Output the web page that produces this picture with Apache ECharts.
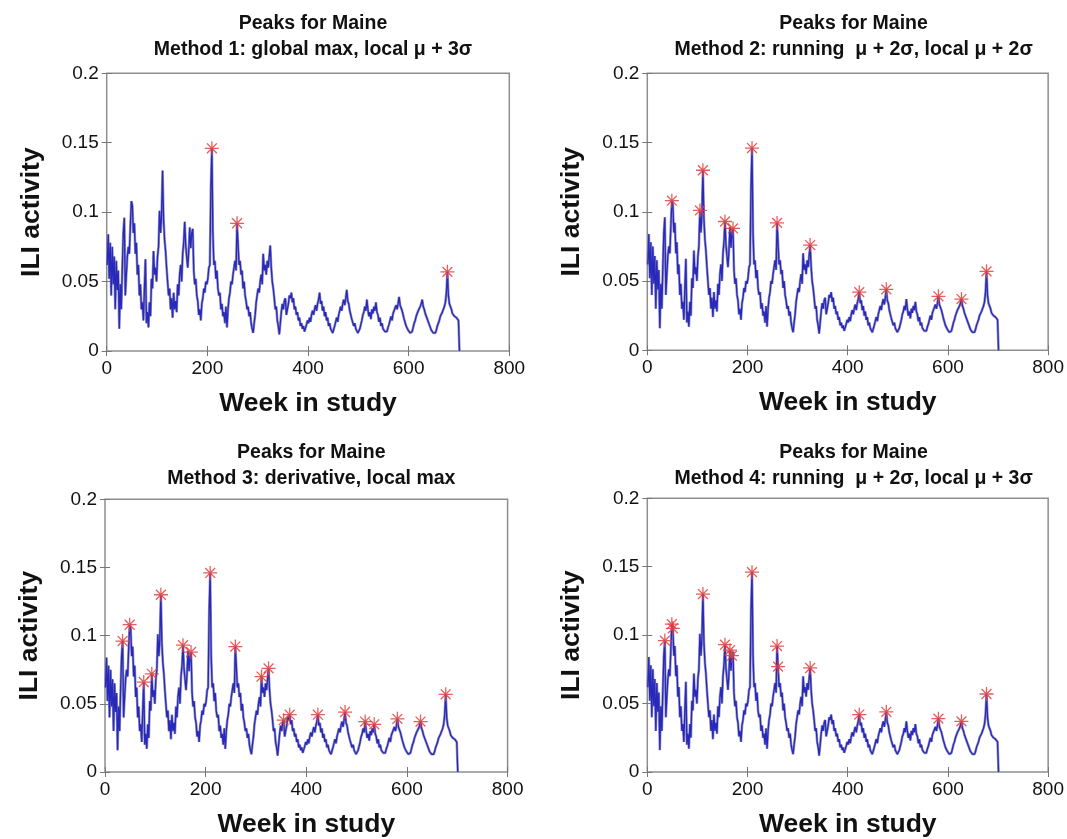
<!DOCTYPE html>
<html><head><meta charset="utf-8">
<script src="https://cdn.jsdelivr.net/npm/echarts@6/dist/echarts.min.js"></script>
<style>html,body{margin:0;padding:0;background:#fff}#c{width:1067px;height:839px}</style>
</head><body><div id="c"></div>
<script>
// Weekly ILI activity for Maine, sampled every 2 weeks starting at week 1
const weekStart = 1;
const weekStep = 2;
const iliActivity = [
  0.062,0.084,0.052,0.078,0.040,0.075,0.048,0.068,0.030,0.065,0.044,0.058,0.016,0.048,0.030,0.060,0.085,0.096,0.040,0.055,0.068,0.075,0.070,0.090,0.108,
  0.105,0.085,0.092,0.070,0.078,0.055,0.062,0.040,0.048,0.030,0.035,0.022,0.045,0.066,0.020,0.028,0.017,0.035,0.025,0.052,0.045,0.072,0.055,0.060,0.050,
  0.068,0.075,0.101,0.085,0.098,0.130,0.095,0.080,0.072,0.060,0.050,0.040,0.045,0.030,0.038,0.024,0.042,0.030,0.036,0.028,0.048,0.040,0.055,0.062,0.050,
  0.070,0.078,0.093,0.076,0.068,0.060,0.072,0.089,0.074,0.085,0.088,0.058,0.048,0.052,0.040,0.036,0.026,0.030,0.022,0.034,0.038,0.045,0.042,0.050,0.048,
  0.052,0.060,0.062,0.118,0.146,0.085,0.062,0.065,0.052,0.058,0.045,0.040,0.042,0.030,0.034,0.025,0.028,0.020,0.032,0.017,0.030,0.038,0.042,0.050,0.048,
  0.055,0.060,0.065,0.058,0.092,0.077,0.062,0.065,0.055,0.058,0.045,0.050,0.040,0.036,0.030,0.032,0.025,0.028,0.020,0.016,0.013,0.020,0.026,0.035,0.040,
  0.045,0.042,0.050,0.055,0.048,0.070,0.058,0.062,0.055,0.065,0.060,0.068,0.076,0.060,0.050,0.045,0.038,0.030,0.032,0.022,0.018,0.012,0.020,0.028,0.034,
  0.030,0.036,0.038,0.026,0.030,0.034,0.040,0.038,0.042,0.035,0.038,0.030,0.032,0.026,0.028,0.022,0.024,0.018,0.020,0.016,0.018,0.014,0.015,0.019,0.022,
  0.020,0.024,0.021,0.026,0.029,0.026,0.030,0.033,0.029,0.034,0.037,0.042,0.034,0.036,0.029,0.032,0.025,0.028,0.022,0.024,0.018,0.020,0.016,0.015,0.013,
  0.014,0.018,0.021,0.024,0.021,0.026,0.029,0.032,0.029,0.034,0.037,0.033,0.038,0.044,0.036,0.034,0.029,0.028,0.023,0.022,0.018,0.020,0.016,0.015,0.013,
  0.012,0.016,0.019,0.022,0.026,0.028,0.032,0.029,0.037,0.030,0.025,0.028,0.023,0.030,0.027,0.032,0.029,0.035,0.028,0.026,0.021,0.024,0.018,0.020,0.016,
  0.016,0.014,0.013,0.014,0.017,0.019,0.022,0.025,0.022,0.027,0.029,0.030,0.033,0.030,0.034,0.039,0.033,0.034,0.029,0.028,0.023,0.022,0.018,0.018,0.015,
  0.014,0.013,0.012,0.014,0.017,0.020,0.022,0.025,0.026,0.029,0.028,0.032,0.034,0.037,0.032,0.030,0.027,0.026,0.023,0.021,0.019,0.017,0.015,0.014,0.013,
  0.014,0.013,0.015,0.018,0.020,0.022,0.025,0.024,0.028,0.030,0.032,0.035,0.042,0.057,0.040,0.034,0.032,0.030,0.027,0.027,0.025,0.024,0.024,0.023,0.022,0.000
];

// Detected peak weeks for each method
const peaksMethod1 = [209, 259, 677];
const peaksMethod2 = [49, 105, 111, 155, 171, 209, 259, 325, 423, 477, 581, 627, 677];
const peaksMethod3 = [35, 49, 77, 93, 111, 155, 171, 209, 259, 311, 325, 355, 367, 423, 477, 517, 535, 581, 627, 677];
const peaksMethod4 = [35, 49, 51, 111, 155, 165, 169, 209, 259, 261, 325, 423, 477, 581, 627, 677];

const titleLine1 = 'Peaks for Maine';
const methodTitles = [
  'Method 1: global max, local \u03bc + 3\u03c3',
  'Method 2: running  \u03bc + 2\u03c3, local \u03bc + 2\u03c3',
  'Method 3: derivative, local max',
  'Method 4: running  \u03bc + 2\u03c3, local \u03bc + 3\u03c3'
];
const xAxisTicks = { min: 0, max: 800, interval: 200 };
const yAxisTicks = { min: 0, max: 0.2, interval: 0.05 };
const xAxisName = 'Week in study';
const yAxisName = 'ILI activity';

const seriesData = iliActivity.map((v, i) => [weekStart + i * weekStep, v]);
const peakSets = [peaksMethod1, peaksMethod2, peaksMethod3, peaksMethod4];
const peakData = peakSets.map(ws => ws.map(w => [w, iliActivity[(w - weekStart) / weekStep]]));

// layout
const grids = [
  { left: 106.7, top: 73.3, width: 402.6, height: 277.7, titleTop: 6 },
  { left: 647.3, top: 73.3, width: 402.6, height: 277.0, titleTop: 6 },
  { left: 105.0, top: 499.3, width: 402.6, height: 279.0, titleTop: 435 },
  { left: 647.3, top: 498.3, width: 402.6, height: 277.7, titleTop: 435 }
];

const FONT = '"Liberation Sans", Arial, Helvetica, sans-serif';
const asterisk = 'path://M0 9.1L20 9.1L20 10.9L0 10.9ZM9.1 0L10.9 0L10.9 20L9.1 20ZM3.6 2.3L17.7 16.4L16.4 17.7L2.3 3.6ZM16.4 2.3L17.7 3.6L3.6 17.7L2.3 16.4Z';

const option = {
  animation: false,
  backgroundColor: '#ffffff',
  title: [], grid: [], xAxis: [], yAxis: [], series: []
};

grids.forEach((g, k) => {
  option.grid.push({ left: g.left, top: g.top, width: g.width, height: g.height,
    show: true, borderColor: '#8e8e8e', borderWidth: 1.5, backgroundColor: 'transparent' });
  const cx = g.left + g.width / 2;
  option.title.push({
    text: titleLine1 + '\n' + methodTitles[k],
    left: cx, top: g.titleTop, textAlign: 'center',
    textStyle: { fontFamily: FONT, fontWeight: 'bold', fontSize: 19.5, lineHeight: 26, color: '#111' }
  });
  const tickStyle = { show: true, inside: true, length: 5, lineStyle: { color: '#777', width: 1 } };
  option.xAxis.push({
    type: 'value', gridIndex: k, position: 'bottom', ...xAxisTicks,
    axisLine: { show: false }, axisTick: tickStyle, splitLine: { show: false },
    axisLabel: { fontFamily: FONT, fontSize: 19, color: '#111', margin: 8 },
    name: xAxisName, nameLocation: 'middle', nameGap: 39,
    nameTextStyle: { fontFamily: FONT, fontWeight: 'bold', fontSize: 26.5, color: '#111' }
  });
  option.xAxis.push({
    type: 'value', gridIndex: k, position: 'top', ...xAxisTicks,
    axisLine: { show: false }, axisTick: tickStyle, splitLine: { show: false },
    axisLabel: { show: false }
  });
  option.yAxis.push({
    type: 'value', gridIndex: k, position: 'left', ...yAxisTicks,
    axisLine: { show: false }, axisTick: tickStyle, splitLine: { show: false },
    axisLabel: { fontFamily: FONT, fontSize: 19, color: '#111', margin: 8 },
    name: yAxisName, nameLocation: 'middle', nameGap: 62, nameRotate: 90,
    nameTextStyle: { fontFamily: FONT, fontWeight: 'bold', fontSize: 26.5, color: '#111' }
  });
  option.yAxis.push({
    type: 'value', gridIndex: k, position: 'right', ...yAxisTicks,
    axisLine: { show: false }, axisTick: tickStyle, splitLine: { show: false },
    axisLabel: { show: false }
  });
  // soft halo layer + core line to mimic the blurred MATLAB trace
  option.series.push({
    type: 'line', xAxisIndex: 2 * k, yAxisIndex: 2 * k, data: seriesData,
    showSymbol: false, symbol: 'none', silent: true,
    lineStyle: { color: '#8585b4', width: 2.6, opacity: 0.85 }, z: 1
  });
  option.series.push({
    type: 'line', xAxisIndex: 2 * k, yAxisIndex: 2 * k, data: seriesData,
    showSymbol: false, symbol: 'none',
    lineStyle: { color: '#2828bc', width: 1.3 }, z: 2
  });
  option.series.push({
    type: 'scatter', xAxisIndex: 2 * k, yAxisIndex: 2 * k, data: peakData[k],
    symbol: asterisk, symbolSize: 14,
    itemStyle: { color: '#e04040', opacity: 0.85 }, z: 3
  });
});

const chart = echarts.init(document.getElementById('c'), null, { renderer: 'canvas' });
chart.setOption(option);
</script>
</body></html>
